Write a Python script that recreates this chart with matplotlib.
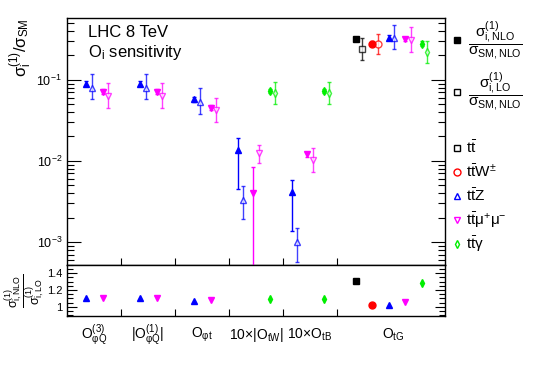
import matplotlib

matplotlib.use("Agg")
import matplotlib.pyplot as plt
import numpy as np
from matplotlib.lines import Line2D
from matplotlib.ticker import FixedLocator, LogLocator, MultipleLocator, NullFormatter

plt.rcParams["font.family"] = ["Liberation Sans", "DejaVu Sans"]
plt.rcParams["mathtext.fontset"] = "custom"
plt.rcParams["mathtext.rm"] = "Liberation Sans"
plt.rcParams["mathtext.it"] = "Liberation Sans:italic"
plt.rcParams["mathtext.bf"] = "Liberation Sans:bold"
plt.rcParams["mathtext.sf"] = "Liberation Sans"

nan = np.nan

operators = [
    r"$\mathrm{O}_{\mathrm{φQ}}^{\mathrm{(3)}}$",
    r"$|\mathrm{O}_{\mathrm{φQ}}^{\mathrm{(1)}}|$",
    r"$\mathrm{O}_{\mathrm{φt}}$",
    r"$\mathrm{10{\times}|O_{tW}|}$",
    r"$\mathrm{10{\times}O_{tB}}$",
    r"$\mathrm{O}_{\mathrm{tG}}$",
]

# sigma_i^(1) / sigma_SM : NLO (filled) and LO (open), with scale bands
ttbar_nlo = [nan, nan, nan, nan, nan, 0.323]
ttbar_nlo_lo = [nan, nan, nan, nan, nan, 0.305]
ttbar_nlo_hi = [nan, nan, nan, nan, nan, 0.342]
ttbar_lo = [nan, nan, nan, nan, nan, 0.242]
ttbar_lo_lo = [nan, nan, nan, nan, nan, 0.178]
ttbar_lo_hi = [nan, nan, nan, nan, nan, 0.332]

ttw_nlo = [nan, nan, nan, nan, nan, 0.279]
ttw_nlo_lo = [nan, nan, nan, nan, nan, 0.262]
ttw_nlo_hi = [nan, nan, nan, nan, nan, 0.297]
ttw_lo = [nan, nan, nan, nan, nan, 0.274]
ttw_lo_lo = [nan, nan, nan, nan, nan, 0.209]
ttw_lo_hi = [nan, nan, nan, nan, nan, 0.365]

ttz_nlo = [0.089, 0.089, 0.058, 0.0136, 0.00414, 0.332]
ttz_nlo_lo = [0.083, 0.083, 0.054, 0.0045, 0.00137, 0.312]
ttz_nlo_hi = [0.096, 0.096, 0.062, 0.0192, 0.00579, 0.353]
ttz_lo = [0.080, 0.080, 0.0536, 0.00329, 0.0010, 0.325]
ttz_lo_lo = [0.058, 0.058, 0.0383, 0.0019, 0.00057, 0.242]
ttz_lo_hi = [0.118, 0.118, 0.0787, 0.00487, 0.00148, 0.473]

ttmm_nlo = [0.0714, 0.0714, 0.0455, 0.0040, 0.0121, 0.316]
ttmm_nlo_lo = [0.066, 0.066, 0.042, 0.0001, 0.0113, 0.297]
ttmm_nlo_hi = [0.077, 0.077, 0.049, 0.0084, 0.0129, 0.336]
ttmm_lo = [0.063, 0.063, 0.042, 0.01235, 0.0103, 0.31]
ttmm_lo_lo = [0.0443, 0.0443, 0.030, 0.0095, 0.0073, 0.222]
ttmm_lo_hi = [0.091, 0.091, 0.060, 0.0157, 0.0144, 0.443]

tta_nlo = [nan, nan, nan, 0.0735, 0.0735, 0.279]
tta_nlo_lo = [nan, nan, nan, 0.069, 0.069, 0.262]
tta_nlo_hi = [nan, nan, nan, 0.078, 0.078, 0.297]
tta_lo = [nan, nan, nan, 0.068, 0.068, 0.22]
tta_lo_lo = [nan, nan, nan, 0.050, 0.050, 0.16]
tta_lo_hi = [nan, nan, nan, 0.095, 0.095, 0.30]

# K-factors sigma_i,NLO^(1) / sigma_i,LO^(1)
ttbar_k = [nan, nan, nan, nan, nan, 1.313]
ttw_k = [nan, nan, nan, nan, nan, 1.017]
ttz_k = [1.11, 1.11, 1.073, nan, nan, 1.025]
ttmm_k = [1.11, 1.11, 1.085, nan, nan, 1.054]
tta_k = [nan, nan, nan, 1.09, 1.09, 1.28]

process_labels = [
    r"$\mathrm{t\bar{t}}$",
    r"$\mathrm{t\bar{t}W^{\pm}}$",
    r"$\mathrm{t\bar{t}Z}$",
    r"$\mathrm{t\bar{t}μ^{+}μ^{-}}$",
    r"$\mathrm{t\bar{t}γ}$",
]


def slot_offsets(b, n):
    # where the markers sit inside each operator bin
    if b == 5:
        return [0.35 + 0.305 * k for k in range(n)]
    if n == 2:
        return [0.36, 0.66]
    return [0.16, 0.45, 0.755]


def draw(ax, x, y, lo, hi, color, marker, filled, ms):
    y = np.array(y)
    yerr = [y - np.array(lo), np.array(hi) - y]
    ax.errorbar(
        x,
        y,
        yerr=yerr,
        fmt=marker,
        color=color,
        mfc=color if filled else "white",
        mec=color,
        mew=1,
        ms=ms,
        elinewidth=1,
        capsize=1.6,
        capthick=1,
        alpha=1.0 if filled else 0.75,
        zorder=3 if filled else 2,
    )


if __name__ == "__main__":
    procs = [
        (ttbar_nlo, ttbar_nlo_lo, ttbar_nlo_hi, ttbar_lo, ttbar_lo_lo, ttbar_lo_hi, ttbar_k, "black", "s", 4.5),
        (ttw_nlo, ttw_nlo_lo, ttw_nlo_hi, ttw_lo, ttw_lo_lo, ttw_lo_hi, ttw_k, "#ff0000", "o", 5),
        (ttz_nlo, ttz_nlo_lo, ttz_nlo_hi, ttz_lo, ttz_lo_lo, ttz_lo_hi, ttz_k, "#0000ff", "^", 5),
        (ttmm_nlo, ttmm_nlo_lo, ttmm_nlo_hi, ttmm_lo, ttmm_lo_lo, ttmm_lo_hi, ttmm_k, "#ff00ff", "v", 5),
        (tta_nlo, tta_nlo_lo, tta_nlo_hi, tta_lo, tta_lo_lo, tta_lo_hi, tta_k, "#00ee00", "d", 4),
    ]
    bin_start = [0, 1, 2, 3, 4, 5]

    # x positions per process
    xs = [[nan] * 6 for _ in procs]
    for b in range(6):
        present = [i for i, p in enumerate(procs) if not np.isnan(p[0][b])]
        offs = slot_offsets(b, len(present))
        for k, i in enumerate(present):
            xs[i][b] = bin_start[b] + offs[k]

    fig = plt.figure(figsize=(5.4, 3.66), dpi=100)
    ax = fig.add_axes([0.124, 0.276, 0.700, 0.675])
    axr = fig.add_axes([0.124, 0.137, 0.700, 0.139], sharex=ax)

    dx_open = 0.105
    for i, p in enumerate(procs):
        nlo, nlo_lo, nlo_hi, lo, lo_lo, lo_hi, kf, c, m, ms = p
        x = np.array(xs[i])
        draw(ax, x + dx_open, lo, lo_lo, lo_hi, c, m, False, ms)
        draw(ax, x, nlo, nlo_lo, nlo_hi, c, m, True, ms)
        axr.plot(x, kf, m, color=c, ms=ms, ls="none")

    ax.set_yscale("log")
    ax.set_ylim(5.2e-4, 0.58)
    ax.set_xlim(0, 7)
    ax.yaxis.set_major_locator(LogLocator(base=10, numticks=10))
    ax.yaxis.set_minor_locator(LogLocator(base=10, subs=np.arange(2, 10), numticks=10))
    ax.yaxis.set_minor_formatter(NullFormatter())
    ax.tick_params(axis="y", which="major", direction="in", length=10, width=0.8,
                   right=True, labelsize=9)
    ax.tick_params(axis="y", which="minor", direction="in", length=5, width=0.8, right=True)
    ax.xaxis.set_major_locator(FixedLocator([1, 2, 3, 4, 5]))
    ax.tick_params(axis="x", which="major", direction="in", length=5, width=0.8,
                   labelbottom=False)
    ax.tick_params(axis="x", which="minor", bottom=False)

    axr.set_ylim(0.89, 1.5)
    axr.yaxis.set_major_locator(FixedLocator([1.0, 1.2, 1.4]))
    axr.yaxis.set_minor_locator(MultipleLocator(0.05))
    axr.set_yticklabels(["1", "1.2", "1.4"])
    axr.tick_params(axis="y", which="major", direction="in", length=7, width=0.8,
                    right=True, labelsize=8)
    axr.tick_params(axis="y", which="minor", direction="in", length=4, width=0.8, right=True)
    axr.tick_params(axis="x", which="major", direction="in", length=5, width=0.8,
                    labelbottom=False)
    axr.tick_params(axis="x", which="minor", bottom=False)

    for a in (ax, axr):
        for s in a.spines.values():
            s.set_linewidth(1.0)

    centers = [0.5, 1.5, 2.5, 3.5, 4.5, 6.05]
    for c, lab in zip(centers, operators):
        axr.text(c, -0.38, lab, transform=axr.get_xaxis_transform(),
                 ha="center", va="center", fontsize=10)

    ax.text(0.055, 0.94, "LHC 8 TeV", transform=ax.transAxes, fontsize=12,
            ha="left", va="center")
    ax.text(0.055, 0.86, r"$\mathrm{O_{i}}$ sensitivity", transform=ax.transAxes,
            fontsize=12, ha="left", va="center")

    fig.text(0.038, 0.95, r"$\mathrm{σ_{i}^{(1)}/σ_{SM}}$", rotation=90,
             ha="center", va="top", fontsize=12)
    fig.text(0.047, 0.205, r"$\mathrm{\dfrac{σ^{(1)}_{i,NLO}}{σ^{(1)}_{i,LO}}}$",
             rotation=90, ha="center", va="center", fontsize=9)

    # legend drawn by hand at the right side
    def fx(px):
        return px / 540.0

    def fy(py):
        return 1 - py / 366.0

    fig.add_artist(Line2D([fx(457)], [fy(40)], transform=fig.transFigure,
                          marker="s", color="black", ms=4.5, ls="none"))
    fig.text(fx(495), fy(41), r"$\mathrm{\dfrac{σ^{(1)}_{i,NLO}}{σ_{SM,NLO}}}$",
             ha="center", va="center", fontsize=11)
    fig.add_artist(Line2D([fx(457)], [fy(92)], transform=fig.transFigure,
                          marker="s", color="black", mfc="white", ms=4.5, ls="none"))
    fig.text(fx(495), fy(92), r"$\mathrm{\dfrac{σ^{(1)}_{i,LO}}{σ_{SM,NLO}}}$",
             ha="center", va="center", fontsize=11)

    leg_y = [148, 172, 196, 220, 244]
    for p, lab, yy in zip(procs, process_labels, leg_y):
        c, m, ms = p[7], p[8], p[9]
        fig.add_artist(Line2D([fx(457)], [fy(yy)], transform=fig.transFigure,
                              marker=m, color=c, mfc="white", ms=ms, ls="none"))
        fig.text(fx(466), fy(yy), lab, ha="left", va="center", fontsize=11)

    fig.savefig("out.png", dpi=100)
